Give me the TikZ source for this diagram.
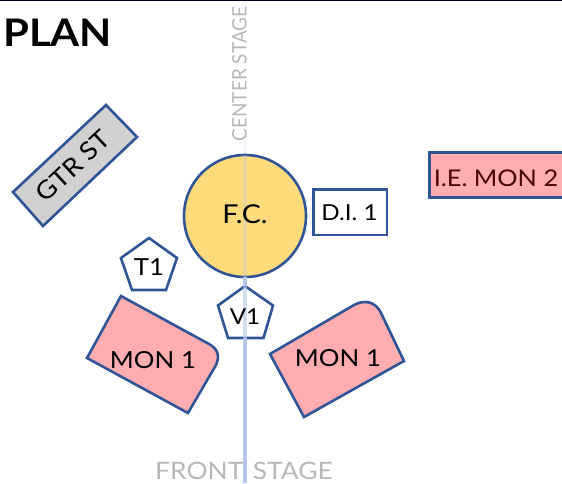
\documentclass[tikz,border=0pt]{standalone}
\usepackage{fontspec}
\setmainfont[FakeStretch=1.1]{Lato}
\newfontfamily\tallfont[FakeStretch=0.95]{Lato}
\definecolor{edge}{HTML}{2F5597}
\definecolor{pinkfill}{HTML}{FFADB0}
\definecolor{goldfill}{HTML}{FFDB7C}
\definecolor{axis}{HTML}{B4C7E7}
\definecolor{maroon}{HTML}{4A0505}
\tikzset{
  x=1pt,y=-1pt,
  outline/.style={draw=edge,line width=2.6pt,line join=miter},
  lab/.style={inner sep=0pt,text=black,font=\fontsize{23.5}{24}\selectfont},
  ghost/.style={inner sep=0pt,text=black!28,font=\fontsize{24}{24}\selectfont}
}
\begin{document}
\begin{tikzpicture}
\useasboundingbox (0,0) rectangle (562,483);
\clip (0,0) rectangle (562,483);
\fill[white] (0,0) rectangle (562,483);
\fill[black!85!blue] (0,0) rectangle (562,1);
% faint upper axis
\draw[axis!15,line width=3.5pt] (245,1) -- (245,155);
% labels of the axis
\node[ghost,fill=white,rotate=90,inner ysep=1pt,font=\tallfont\fontsize{20}{20}\selectfont] (cs) at (239.5,74) {CENTER STAGE};
% shapes
\draw[outline,fill=black!18] (106,105) -- (137,137) -- (43,226) -- (13,192) -- cycle;
\node[outline,circle,fill=goldfill,minimum size=122pt,inner sep=0pt] (fc) at (245,216) {};
\draw[outline,fill=white] (313.5,189.5) rectangle (387,235);
\draw[outline,fill=pinkfill] (429.5,152.5) rectangle (575,197.5);
\draw[outline,fill=white] (149,238) -- (177,258) -- (166,290) -- (132,290) -- (121,258) -- cycle;
\draw[outline,fill=white] (245,286) -- (273,305.5) -- (263.5,338) -- (228,338) -- (218,305.5) -- cycle;
\draw[outline,fill=pinkfill] (121,296) -- (209,344) .. controls (218,349) and (220,356) .. (216,365) -- (188,413) -- (87,358) -- cycle;
\draw[outline,fill=pinkfill] (270,354) -- (354,305) .. controls (365,299) and (376,302) .. (381,313) -- (404,361) -- (304,417) -- cycle;
% axis over shapes
\draw[axis,line width=3.5pt,opacity=.3] (245,155) -- (245,277);
\draw[axis,line width=3.5pt,opacity=.6] (245,286) -- (245,338);
\draw[axis,line width=3.5pt] (245,277) -- (245,286);
\draw[axis,line width=3.5pt] (245,338) -- (245,483);
% texts
\node[inner sep=0pt,font=\fontsize{38}{38}\selectfont\bfseries,anchor=base west] (plan) at (3,46) {PLAN};
\node[lab,rotate=43,font=\fontsize{25}{25}\selectfont] (gtr) at (73,166) {GTR ST};
\node[lab,font=\fontsize{26}{26}\selectfont] (fct) at (245,214) {F.C.};
\node[lab,font=\fontsize{22}{22}\selectfont] (di) at (349.5,213) {D.I. 1};
\node[lab,text=maroon,font=\fontsize{23}{23}\selectfont] (ie) at (496,178) {I.E. MON 2};
\node[lab] (t1) at (149,267) {T1};
\node[lab,font=\fontsize{22}{22}\selectfont] (v1) at (245,317) {V1};
\node[lab] (m1) at (153,360) {MON 1};
\node[lab] (m2) at (338,358) {MON 1};
\node[ghost,anchor=base west] (fs1) at (155,479) {FRONT};
\node[ghost,anchor=base east] (fs2) at (333,479) {STAGE};
\end{tikzpicture}
\end{document}
